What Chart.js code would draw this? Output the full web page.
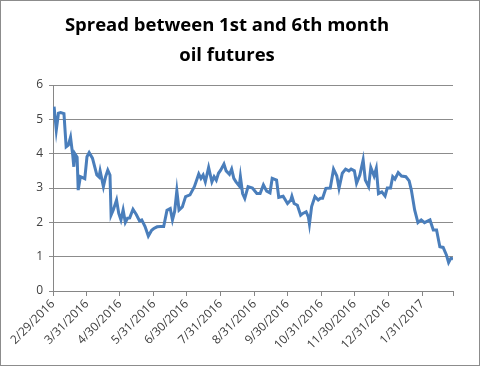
<!DOCTYPE html>
<html>
<head>
<meta charset="UTF-8">
<title>Spread between 1st and 6th month oil futures</title>
<script src="https://cdn.jsdelivr.net/npm/chart.js@4.4.1/dist/chart.umd.min.js"></script>
<style>
  body { margin: 0; background: #fff; }
  #wrap { width: 480px; height: 366px; box-sizing: border-box; border: 1px solid #8c8c8c; }
</style>
</head>
<body>
<div id="wrap"><canvas id="chart" width="478" height="364"></canvas></div>
<script>
// days counted from 2/29/2016
var days = [1, 3, 5, 7, 10, 12, 14, 16, 18, 19, 20, 22, 23, 25, 27, 29, 31, 33, 36, 40,
  42, 43, 46, 48, 50, 52, 53, 55, 58, 60, 62, 64, 66, 68, 70, 73, 76, 79, 81, 84,
  87, 90, 92, 95, 98, 101, 104, 107, 109, 111, 113, 115, 118, 121, 125, 129, 133, 135, 137, 139,
  142, 145, 147, 149, 151, 153, 156, 158, 161, 163, 165, 167, 170, 171, 173, 175, 178, 182, 186, 189,
  192, 195, 198, 200, 204, 206, 210, 214, 217, 218, 220, 223, 226, 228, 231, 233, 234, 236, 239, 242,
  244, 246, 249, 253, 256, 259, 261, 264, 267, 270, 272, 275, 277, 280, 283, 285, 288, 290, 293, 295,
  297, 300, 303, 305, 308, 310, 312, 315, 318, 322, 325, 327, 330, 333, 336, 339, 344, 347, 350, 353,
  356, 359, 361, 363, 365];
var spread = [5.37, 4.69, 5.18, 5.2, 5.17, 4.2, 4.25, 4.48, 3.96, 3.62, 4.0, 3.9, 2.94, 3.33, 3.3, 3.27, 3.91, 4.03, 3.87, 3.38,
  3.32, 3.5, 3.04, 3.33, 3.52, 3.38, 2.21, 2.36, 2.65, 2.26, 2.07, 2.36, 2.0, 2.12, 2.13, 2.38, 2.23, 2.04, 2.07, 1.88,
  1.6, 1.77, 1.82, 1.87, 1.88, 1.88, 2.35, 2.4, 2.07, 2.32, 2.92, 2.36, 2.45, 2.75, 2.8, 3.04, 3.41, 3.28, 3.38, 3.18,
  3.6, 3.18, 3.33, 3.23, 3.43, 3.52, 3.7, 3.5, 3.4, 3.55, 3.28, 3.18, 3.06, 3.33, 2.84, 2.7, 3.04, 3.0, 2.84, 2.84,
  3.09, 2.91, 2.86, 3.28, 3.23, 2.73, 2.76, 2.55, 2.65, 2.76, 2.55, 2.5, 2.21, 2.26, 2.31, 2.16, 1.95, 2.46, 2.75, 2.65,
  2.7, 2.7, 2.99, 3.0, 3.55, 3.35, 2.99, 3.43, 3.55, 3.5, 3.55, 3.5, 3.14, 3.38, 3.82, 3.23, 3.04, 3.6, 3.35, 3.57,
  2.84, 2.89, 2.77, 3.0, 3.0, 3.33, 3.26, 3.45, 3.35, 3.33, 3.21, 2.94, 2.36, 1.99, 2.07, 1.99, 2.07, 1.78, 1.78, 1.29,
  1.27, 1.05, 0.83, 0.95, 0.94];
var monthDays = [0, 31, 61, 92, 122, 153, 184, 214, 245, 275, 306, 337, 365];
var monthLabels = ['2/29/2016', '3/31/2016', '4/30/2016', '5/31/2016', '6/30/2016', '7/31/2016',
  '8/31/2016', '9/30/2016', '10/31/2016', '11/30/2016', '12/31/2016', '1/31/2017', ''];

var points = days.map(function(d, i) { return { x: d, y: spread[i] }; });

new Chart(document.getElementById('chart'), {
  type: 'line',
  data: {
    datasets: [{
      data: points,
      borderColor: '#4a7ebb',
      borderWidth: 3,
      pointRadius: 0,
      tension: 0
    }]
  },
  options: {
    responsive: false,
    animation: false,
    layout: { padding: { left: 0, right: 26, top: 0, bottom: 0 } },
    plugins: {
      legend: { display: false },
      tooltip: { enabled: false },
      title: {
        display: true,
        text: ['Spread between 1st and 6th month', 'oil futures'],
        color: '#000',
        font: { family: 'Open Sans', size: 18.5, weight: 'bold', lineHeight: 1.65 },
        padding: { top: 9, bottom: 14 }
      }
    },
    scales: {
      x: {
        type: 'linear',
        min: 0,
        max: 365,
        afterBuildTicks: function(s) {
          s.ticks = monthDays.map(function(v) { return { value: v }; });
        },
        afterFit: function(s) { s.height = 74; },
        ticks: {
          autoSkip: false,
          minRotation: 45,
          maxRotation: 45,
          color: '#404040',
          font: { family: 'Open Sans', size: 12 },
          padding: 1,
          callback: function(v) {
            var i = monthDays.indexOf(v);
            return i >= 0 ? monthLabels[i] : '';
          }
        },
        grid: { drawOnChartArea: false, drawTicks: true, tickLength: 5, color: '#868686' },
        border: { color: '#868686' }
      },
      y: {
        min: 0,
        max: 6,
        afterFit: function(s) { s.width = 52; },
        ticks: {
          stepSize: 1,
          color: '#404040',
          font: { family: 'Open Sans', size: 12 },
          padding: 6
        },
        grid: { color: '#8c8c8c', tickLength: 4 },
        border: { color: '#868686' }
      }
    }
  }
});
</script>
</body>
</html>
